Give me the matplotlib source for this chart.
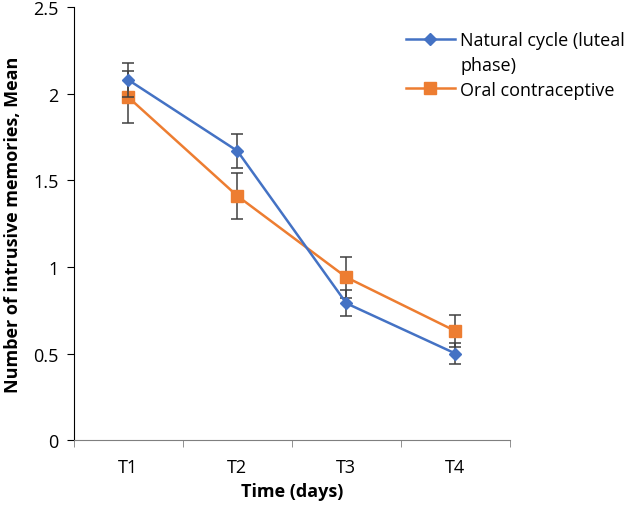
import matplotlib
matplotlib.use("Agg")
import matplotlib.pyplot as plt
from matplotlib.lines import Line2D
import numpy as np

plt.rcParams["font.family"] = ["Open Sans", "DejaVu Sans"]

times = ["T1", "T2", "T3", "T4"]
natural_mean = [2.08, 1.67, 0.79, 0.50]
natural_err = [0.10, 0.10, 0.075, 0.06]
oral_mean = [1.98, 1.41, 0.94, 0.63]
oral_err = [0.15, 0.135, 0.12, 0.09]
yticks = [0, 0.5, 1, 1.5, 2, 2.5]
ytick_labels = ["0", "0.5", "1", "1.5", "2", "2.5"]

BLUE, ORANGE = "#4472C4", "#ED7D31"
AXC = "#7f7f7f"
FS = 13

fig = plt.figure(figsize=(6.25, 5.10), dpi=100)
ax = fig.add_axes([0.118, 0.135, 0.698, 0.849])

x = np.arange(len(times))
ax.errorbar(x, natural_mean, yerr=natural_err, color=BLUE, lw=1.8, marker="D", ms=6.5,
            ecolor="#404040", elinewidth=1.1, capsize=4, capthick=1.1, zorder=3)
ax.errorbar(x, oral_mean, yerr=oral_err, color=ORANGE, lw=1.8, marker="s", ms=8,
            ecolor="#404040", elinewidth=1.1, capsize=4, capthick=1.1, zorder=2)

ax.set_xlim(-0.5, len(times) - 0.5)
ax.set_ylim(0, 2.5)
ax.set_yticks(yticks)
ax.set_yticklabels(ytick_labels, fontsize=FS)
ax.set_xticks(x)
ax.set_xticklabels(times, fontsize=FS)
ax.set_xticks(np.arange(len(times) + 1) - 0.5, minor=True)
ax.tick_params(axis="x", which="major", length=0, pad=13)
ax.tick_params(axis="x", which="minor", length=5, color=AXC)
ax.tick_params(axis="y", length=5, color="black", pad=6)

for s in ["top", "right"]:
    ax.spines[s].set_visible(False)
ax.spines["left"].set_color("black")
ax.spines["bottom"].set_color(AXC)

ax.set_xlabel("Time (days)", fontsize=FS, fontweight="bold", labelpad=4)
ax.set_ylabel("Number of intrusive memories, Mean", fontsize=FS, fontweight="bold", labelpad=8)

# legend: handle sits on the first line of the wrapped label, like Excel does it
handles = [Line2D([], [], color=BLUE, lw=1.8, marker="D", ms=6.5),
           Line2D([], [], color="none"),
           Line2D([], [], color=ORANGE, lw=1.8, marker="s", ms=8)]
labels = ["Natural cycle (luteal", "phase)", "Oral contraceptive"]
ax.legend(handles, labels, loc="upper left", bbox_to_anchor=(0.745, 0.962), frameon=False,
          fontsize=FS, handlelength=2.7, handletextpad=0.3, labelspacing=0.38,
          borderaxespad=0)

fig.savefig("out.png", dpi=100)
